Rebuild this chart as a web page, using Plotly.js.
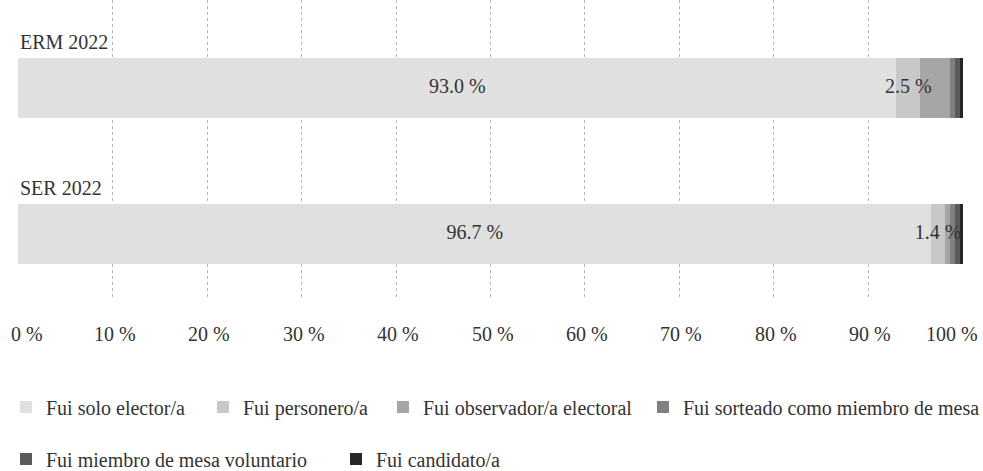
<!DOCTYPE html>
<html>
<head>
<meta charset="utf-8">
<script src="https://cdn.plot.ly/plotly-3.0.1.min.js"></script>
<style>html,body{margin:0;padding:0;background:#fff;}#chart{width:983px;height:471px;}</style>
</head>
<body>
<div id="chart"></div>
<script>
const categories = ['ERM 2022', 'SER 2022'];
const seriesNames = [
  'Fui solo elector/a',
  'Fui personero/a',
  'Fui observador/a electoral',
  'Fui sorteado como miembro de mesa',
  'Fui miembro de mesa voluntario',
  'Fui candidato/a'
];
const soloElector = [93.0, 96.7];
const personero = [2.5, 1.4];
const observador = [3.2, 0.6];
const sorteado = [0.5, 0.5];
const voluntario = [0.5, 0.5];
const candidato = [0.3, 0.3];
const xTicks = [0, 10, 20, 30, 40, 50, 60, 70, 80, 90, 100];
const xTickLabels = ['0 %', '10 %', '20 %', '30 %', '40 %', '50 %', '60 %', '70 %', '80 %', '90 %', '100 %'];

const seriesValues = [soloElector, personero, observador, sorteado, voluntario, candidato];
const colors = ['#e0e0e0', '#c8c8c8', '#a6a6a6', '#808080', '#5a5a5a', '#262626'];
const labelled = [true, true, false, false, false, false];
const legendIds = ['legend', 'legend2', 'legend3', 'legend4', 'legend5', 'legend6'];

const FONT = '"Liberation Serif", "Times New Roman", serif';
const TXT = '#333333';
const FS = 20;

const traces = seriesNames.map((name, i) => ({
  type: 'bar',
  orientation: 'h',
  name: name,
  y: categories,
  x: seriesValues[i],
  marker: {color: colors[i], line: {width: 0}},
  textposition: 'none',
  legend: legendIds[i],
  hoverinfo: 'none'
}));

// value labels, drawn on top of all segments at each segment's centre
const labX = [], labY = [], labT = [];
categories.forEach((c, j) => {
  let acc = 0;
  seriesValues.forEach((vals, i) => {
    if (labelled[i]) {
      labX.push(acc + vals[j] / 2);
      labY.push(c);
      labT.push(vals[j].toFixed(1) + ' %');
    }
    acc += vals[j];
  });
});
traces.push({
  type: 'scatter', mode: 'text',
  x: labX, y: labY, text: labT,
  textposition: 'middle center',
  textfont: {family: FONT, size: FS, color: TXT},
  showlegend: false, hoverinfo: 'none', cliponaxis: false
});

// category labels above bars
const annotations = categories.map(c => ({
  text: c, x: 0, y: c, xref: 'x', yref: 'y',
  xanchor: 'left', yanchor: 'bottom', yshift: 33, showarrow: false,
  font: {family: FONT, size: FS, color: TXT}
}));
// x tick labels (end labels kept inside the frame, as in the reference)
xTicks.forEach((v, k) => {
  const first = k === 0, last = k === xTicks.length - 1;
  annotations.push({
    text: xTickLabels[k], x: v, xref: 'x', y: 0, yref: 'paper',
    xanchor: first ? 'left' : (last ? 'right' : 'center'),
    xshift: first ? -9 : (last ? 17 : 2),
    yanchor: 'middle', yshift: -34, showarrow: false,
    font: {family: FONT, size: FS, color: TXT}
  });
});

const plotLeft = 18, plotW = 945, plotTop = 0, plotH = 300;
// pixel positions of legend symbol left edges / row centres
const legendPos = [[18, 407], [215, 407], [395, 407], [655, 407], [18, 459], [348, 459]];
const layout = {
  width: 983, height: 471,
  margin: {l: plotLeft, r: 983 - plotLeft - plotW, t: plotTop, b: 471 - plotH, pad: 0, autoexpand: false},
  paper_bgcolor: '#ffffff',
  plot_bgcolor: '#ffffff',
  barmode: 'stack',
  bargap: 0.59,
  font: {family: FONT, size: FS, color: TXT},
  xaxis: {
    range: [-0.05, 100.05],
    tickvals: xTicks,
    showticklabels: false,
    showgrid: true,
    gridcolor: '#b5b5b5',
    gridwidth: 1,
    griddash: 'dot',
    zeroline: false,
    showline: false,
    ticks: '',
    fixedrange: true
  },
  yaxis: {
    type: 'category',
    categoryorder: 'array',
    categoryarray: categories,
    range: [1.452, -0.603],
    showticklabels: false,
    showgrid: false,
    zeroline: false,
    showline: false,
    fixedrange: true
  },
  showlegend: true,
  annotations: annotations
};
legendIds.forEach((id, i) => {
  const [px, py] = legendPos[i];
  layout[id] = {
    orientation: 'h',
    x: (px - 12 - plotLeft) / plotW,
    xanchor: 'left',
    y: (plotH - py) / plotH,
    yanchor: 'middle',
    bgcolor: 'rgba(0,0,0,0)',
    borderwidth: 0,
    font: {family: FONT, size: FS, color: TXT}
  };
});

Plotly.newPlot('chart', traces, layout, {displayModeBar: false, staticPlot: true});
</script>
</body>
</html>
